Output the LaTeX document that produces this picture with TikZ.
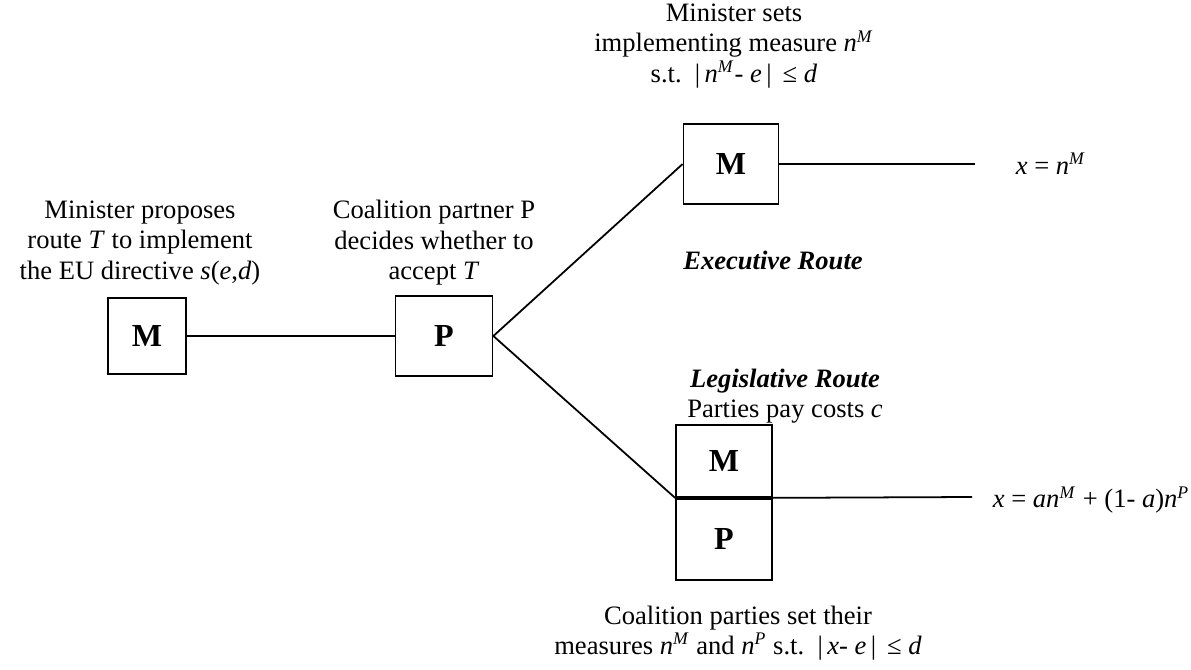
\documentclass[tikz,border=0pt]{standalone}
\usepackage{fontspec}
\setmainfont{Liberation Serif}
\usepackage{tikz}
\usetikzlibrary{positioning}

\newcommand{\nM}{\textit{n}\textsuperscript{\textit{M}}}
\newcommand{\nP}{\textit{n}\textsuperscript{\textit{P}}}

\begin{document}
\begin{tikzpicture}[x=0.4517pt,y=-0.4517pt,line width=0.8pt,
    player/.style={draw,inner sep=0pt,font=\fontsize{14.5}{16}\selectfont\bfseries},
    lbl/.style={align=center,inner sep=0pt,font=\fontsize{12}{13.8}\selectfont}]
  \useasboundingbox (0,0) rectangle (1191,670);

  % players
  \node[player,minimum width=35.2pt,minimum height=34.3pt] (M)  at (147,336) {M};
  \node[player,minimum width=43.8pt,minimum height=36.1pt] (P)  at (444,336) {P};
  \node[player,minimum width=42.9pt,minimum height=36.1pt] (Me) at (731,164) {M};
  \node[player,minimum width=43.4pt,minimum height=32.5pt] (Ml) at (724,461) {M};
  \node[player,minimum width=43.4pt,minimum height=36.6pt,below=0pt of Ml] (Pl) {P};

  \coordinate (xe) at (975,164);
  \coordinate (xl) at (972,497);

  % texts
  \node[lbl] (tM) at (140,243) {Minister proposes\\route \textit{T} to implement\\the EU directive \textit{s}(\textit{e},\textit{d})};
  \node[lbl] (tP) at (434,243) {Coalition partner P\\decides whether to\\accept \textit{T}};
  \node[lbl] (tMe) at (734,46) {Minister sets\\implementing measure \nM\\s.t. \,|\,\nM- \textit{e}\,|\, ≤ \textit{d}};
  \node[lbl] (ex) at (773,260) {\textbf{\textit{Executive Route}}};
  \node[lbl] (lg) at (785,396) {\textbf{\textit{Legislative Route}}\\Parties pay costs \textit{c}};
  \node[lbl] (tPl) at (738,633) {Coalition parties set their\\measures \nM{} and \nP{} s.t. \,|\,\textit{x}- \textit{e}\,|\, ≤ \textit{d}};
  \node[lbl,anchor=west] (oe) at (1015,164) {\textit{x} = \nM};
  \node[lbl,anchor=west] (ol) at (992,500) {\textit{x} = \textit{a}\nM{} + (1- \textit{a})\nP};

  % branches
  \draw (M) -- (P);
  \draw (P.east) -- (Me.west);
  \draw (P.east) -- (Ml.south west);
  \draw (Me) -- (xe);
  \draw (Ml.south east) -- (xl);
\end{tikzpicture}
\end{document}
